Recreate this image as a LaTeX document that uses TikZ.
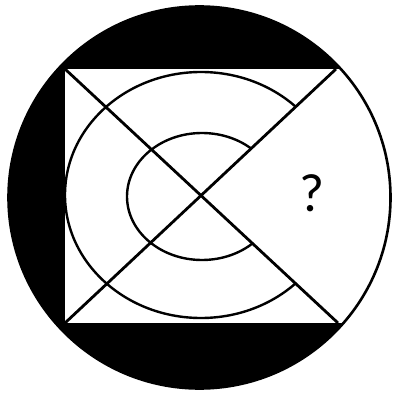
\documentclass[tikz,border=0pt]{standalone}
\usepackage{fontspec}
\setmainfont{Carlito}
\begin{document}
\begin{tikzpicture}[x=1pt,y=-1pt,
  diag/.style={line width=2.8pt},
  ring/.style={line width=2.4pt},
  rim/.style={line width=2.6pt}]
\useasboundingbox (0,0) rectangle (394,395);
\coordinate (C) at (199.5,197.5);
\coordinate (O) at (201,196);
\coordinate (TL) at (65,69);
\coordinate (BL) at (65,323);
\coordinate (TR) at (336,69);
\coordinate (BR) at (338,323);
% black disc with white rectangle cut out
\fill[black] (C) circle[radius=191];
\begin{scope}
  \clip (C) circle[radius=191];
  \fill[white] (TL) rectangle (420,323);
\end{scope}
\draw[rim] (C) circle[radius=191];
% ellipses, clipped away from the right wedge
\begin{scope}
  \clip (O) -- (471,-58) -- (-50,-58) -- (-50,450) -- (475,450) -- cycle;
  \draw[ring] (201,195) ellipse[x radius=136, y radius=123];
  \draw[ring] (202,196.5) ellipse[x radius=75, y radius=63.5];
\end{scope}
% diagonals
\draw[diag] (TL) -- (BR);
\draw[diag] (BL) -- (TR);
% question mark
\node[anchor=base, inner sep=0pt, font=\fontsize{54}{54}\selectfont] (q) at (312,211) {?};
\end{tikzpicture}
\end{document}
